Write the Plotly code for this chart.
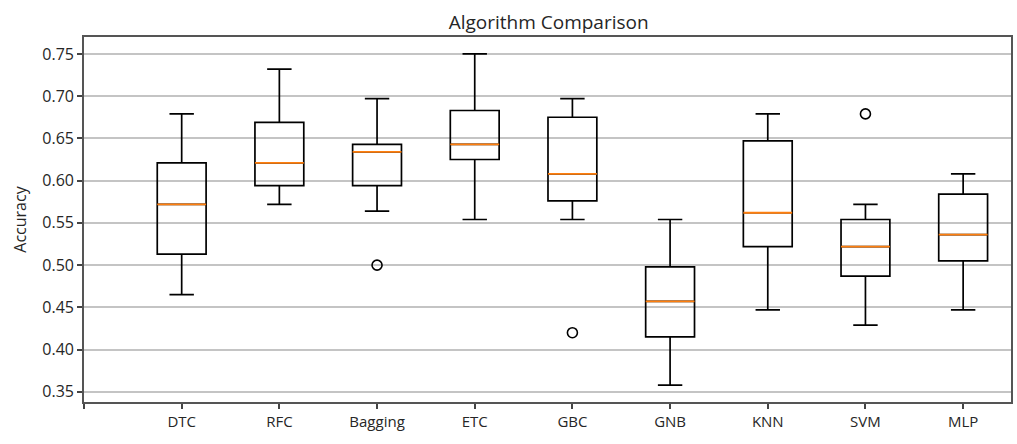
import plotly.graph_objects as go

categories = ["DTC", "RFC", "Bagging", "ETC", "GBC", "GNB", "KNN", "SVM", "MLP"]
positions = [1, 2, 3, 4, 5, 6, 7, 8, 9]
lower_whisker = [0.465, 0.572, 0.564, 0.554, 0.554, 0.358, 0.447, 0.429, 0.447]
q1 = [0.513, 0.594, 0.594, 0.625, 0.576, 0.415, 0.522, 0.487, 0.505]
median = [0.572, 0.621, 0.634, 0.643, 0.608, 0.457, 0.562, 0.522, 0.536]
q3 = [0.621, 0.669, 0.643, 0.683, 0.675, 0.498, 0.647, 0.554, 0.584]
upper_whisker = [0.679, 0.732, 0.697, 0.750, 0.697, 0.554, 0.679, 0.572, 0.608]
outlier_cats = ["Bagging", "GBC", "SVM"]
outlier_vals = [0.500, 0.420, 0.679]

y_ticks = [0.35, 0.40, 0.45, 0.50, 0.55, 0.60, 0.65, 0.70, 0.75]

pos_of = dict(zip(categories, positions))

fig = go.Figure()
fig.add_trace(go.Box(
    x=positions, q1=q1, median=median, q3=q3,
    lowerfence=lower_whisker, upperfence=upper_whisker,
    width=0.5, whiskerwidth=0.5,
    line=dict(color="black", width=1.7),
    fillcolor="rgba(255,255,255,0)",
    boxpoints=False, showlegend=False,
))
fig.add_trace(go.Box(
    x=positions, q1=median, median=median, q3=median,
    lowerfence=median, upperfence=median,
    width=0.5, whiskerwidth=0,
    line=dict(color="#ff7f0e", width=1.8),
    fillcolor="rgba(255,255,255,0)",
    boxpoints=False, showlegend=False,
))
fig.add_trace(go.Scatter(
    x=[pos_of[c] for c in outlier_cats], y=outlier_vals, mode="markers",
    marker=dict(symbol="circle-open", size=10, color="black", line=dict(width=1.6)),
    showlegend=False,
))

fig.update_layout(
    width=1017, height=444,
    margin=dict(l=84, r=4, t=37, b=42),
    paper_bgcolor="white", plot_bgcolor="white",
    boxmode="overlay",
    font=dict(family="Open Sans", color="#262626"),
    title=dict(text="Algorithm Comparison", x=0.5395, xanchor="center",
               y=0.95, yanchor="middle", font=dict(size=19, color="#262626")),
    xaxis=dict(
        range=[0, 9.49],
        tickvals=[0] + positions, ticktext=[""] + categories,
        ticks="outside", ticklen=5, tickcolor="#444", tickwidth=1.5,
        showline=True, linecolor="#555", linewidth=1.6, mirror=True,
        showgrid=False, zeroline=False,
        tickfont=dict(size=15, color="#262626"),
    ),
    yaxis=dict(
        range=[0.338, 0.770],
        tickvals=y_ticks, tickformat=".2f",
        ticks="outside", ticklen=5, tickcolor="#444", tickwidth=1.5,
        showline=True, linecolor="#555", linewidth=1.6, mirror=True,
        showgrid=True, gridcolor="#c4c4c4", gridwidth=1.6, zeroline=False,
        tickfont=dict(size=16, color="#262626"),
        title=dict(text="Accuracy", font=dict(size=16, color="#262626"), standoff=12),
    ),
)

fig.write_html("out.html")
